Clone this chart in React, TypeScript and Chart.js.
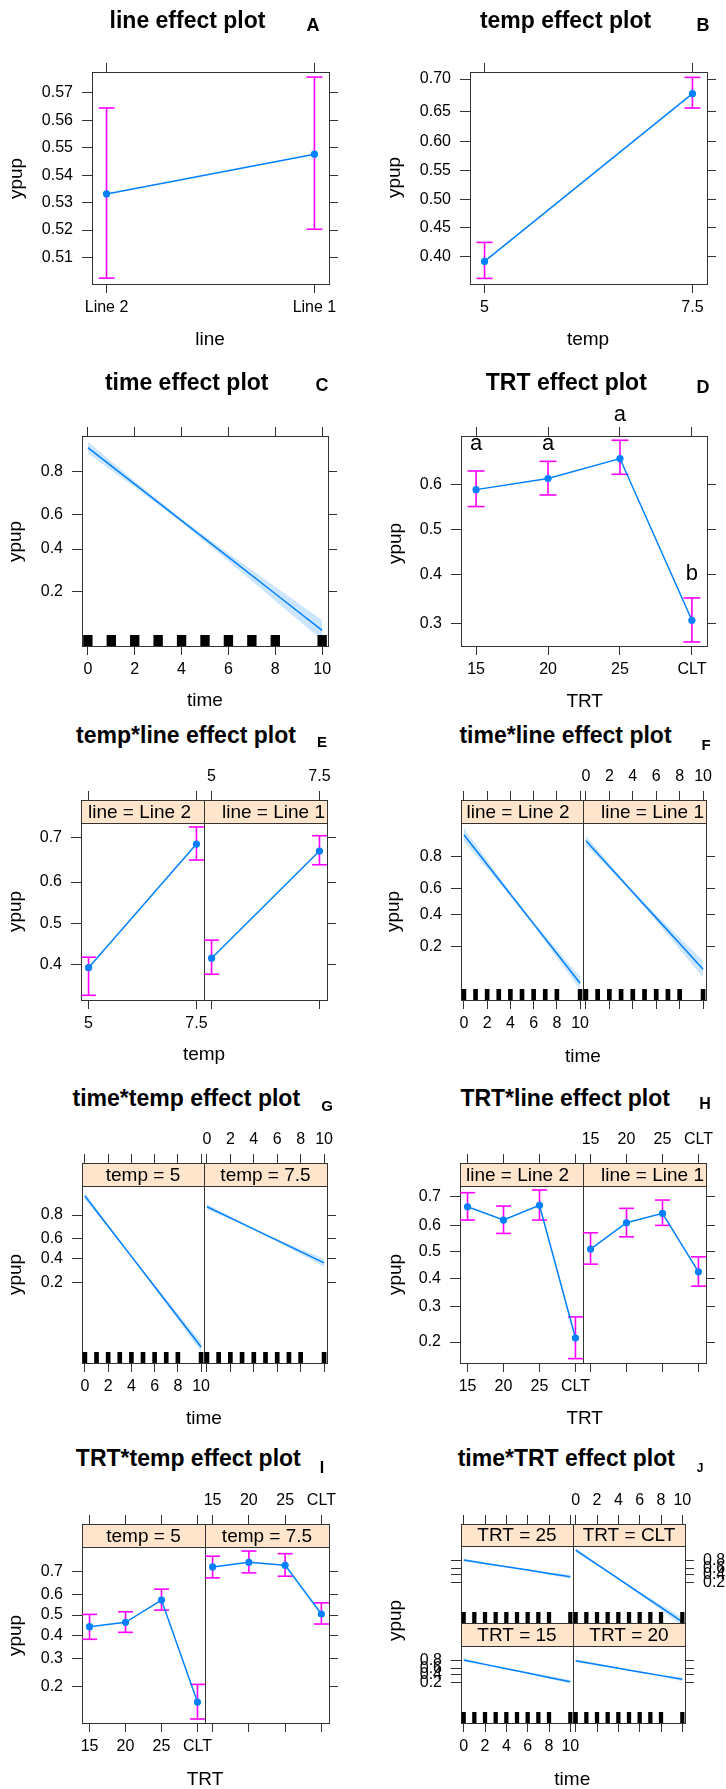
import React, { useEffect, useRef } from "react";
import { Chart, registerables } from "chart.js";

Chart.register(...registerables);

const FONT = "'Liberation Sans', Arial, Helvetica, sans-serif";
const BLUE = "#0080ff";
const MAGENTA = "#ff00ff";
const BAND = "rgba(0,128,255,0.2)";
const STRIP_BG = "#ffe5cc";
const AXIS = "#333333";
const TEXT = "#000000";

const logit = (p: number) => Math.log(p / (1 - p));

// ================= DATA =================
// A: line effect
const lineLevels = ["Line 2", "Line 1"];
const lineFit = [0.5332, 0.5477];
const lineLower = [0.5024, 0.5203];
const lineUpper = [0.5644, 0.5755];

// B: temp effect
const tempValues = [5, 7.5];
const tempLabels = ["5", "7.5"];
const tempFit = [0.3921, 0.6778];
const tempLower = [0.3639, 0.6554];
const tempUpper = [0.4244, 0.7024];

// time grid, rug
const timeGrid = [0, 2, 4, 6, 8, 10];
const timeTicks = [0, 2, 4, 6, 8, 10];
const timeTickLabels = ["0", "2", "4", "6", "8", "10"];
const rugTimes = [0, 1, 2, 3, 4, 5, 6, 7, 8, 10];

// C: time effect
const timeFit = [0.8757, 0.7508, 0.5632, 0.3555, 0.1909, 0.0917];
const timeLower = [0.8602, 0.7375, 0.5528, 0.3345, 0.1673, 0.0742];
const timeUpper = [0.8896, 0.7637, 0.5735, 0.3771, 0.2169, 0.1128];

// D: TRT effect
const trtLevels = ["15", "20", "25", "CLT"];
const trtIndex = [0, 1, 2, 3];
const trtFit = [0.589, 0.6129, 0.6547, 0.3064];
const trtLower = [0.5516, 0.5773, 0.622, 0.2665];
const trtUpper = [0.629, 0.649, 0.691, 0.3507];
const trtSigLetters = ["a", "a", "a", "b"];
const trtSigAt = [0.671, 0.671, 0.727, 0.388];

// E: temp*line
const tempLine2Fit = [0.392, 0.6858];
const tempLine2Lower = [0.3293, 0.6508];
const tempLine2Upper = [0.4168, 0.7208];
const tempLine1Fit = [0.4144, 0.6707];
const tempLine1Lower = [0.3766, 0.6402];
const tempLine1Upper = [0.4581, 0.7032];

// F: time*line
const timeLine2Fit = [0.8864, 0.7579, 0.5565, 0.3349, 0.168, 0.075];
const timeLine2Lower = [0.864, 0.7334, 0.5407, 0.3208, 0.1507, 0.0619];
const timeLine2Upper = [0.9054, 0.7808, 0.5722, 0.3493, 0.1868, 0.0905];
const timeLine1Fit = [0.8664, 0.7463, 0.5718, 0.3771, 0.2155, 0.1109];
const timeLine1Lower = [0.8475, 0.7307, 0.5604, 0.3532, 0.1868, 0.0879];
const timeLine1Upper = [0.8832, 0.7613, 0.5832, 0.4016, 0.2473, 0.1388];

// G: time*temp
const timeTemp5Fit = [0.8977, 0.7171, 0.4226, 0.1747, 0.0576, 0.01736];
const timeTemp5Lower = [0.8843, 0.7027, 0.4124, 0.1641, 0.0507, 0.01417];
const timeTemp5Upper = [0.9095, 0.7311, 0.4329, 0.1857, 0.0654, 0.02125];
const timeTemp75Fit = [0.8494, 0.7806, 0.6915, 0.5856, 0.471, 0.3597];
const timeTemp75Lower = [0.8348, 0.7692, 0.6829, 0.571, 0.445, 0.3226];
const timeTemp75Upper = [0.863, 0.7915, 0.6999, 0.6001, 0.4973, 0.3984];

// H: TRT*line
const trtLine2Fit = [0.6666, 0.6197, 0.6715, 0.2101];
const trtLine2Lower = [0.6197, 0.5703, 0.6197, 0.1622];
const trtLine2Upper = [0.7128, 0.669, 0.7212, 0.2688];
const trtLine1Fit = [0.5104, 0.6099, 0.6436, 0.4236];
const trtLine1Lower = [0.4528, 0.5575, 0.6003, 0.371];
const trtLine1Upper = [0.5727, 0.6611, 0.6891, 0.4808];

// I: TRT*temp
const trtTemp5Fit = [0.4437, 0.4648, 0.572, 0.1559];
const trtTemp5Lower = [0.3846, 0.417, 0.524, 0.1174];
const trtTemp5Upper = [0.5033, 0.516, 0.623, 0.2066];
const trtTemp75Fit = [0.7179, 0.736, 0.7245, 0.5048];
const trtTemp75Lower = [0.673, 0.694, 0.68, 0.4566];
const trtTemp75Upper = [0.758, 0.776, 0.767, 0.559];

// J: time*TRT
const timeTrt25Fit = [0.8184, 0.745, 0.6545, 0.5511, 0.4432, 0.3403];
const timeTrt25Lower = [0.7869, 0.7215, 0.6362, 0.5262, 0.4042, 0.2886];
const timeTrt25Upper = [0.8463, 0.7671, 0.6724, 0.5757, 0.483, 0.396];
const timeTrtCltFit = [0.943, 0.7195, 0.2848, 0.0582, 0.0095, 0.001486];
const timeTrtCltLower = [0.9245, 0.6883, 0.261, 0.0481, 0.00671, 0.000858];
const timeTrtCltUpper = [0.9571, 0.7488, 0.3098, 0.0702, 0.01343, 0.00257];
const timeTrt15Fit = [0.8184, 0.7197, 0.5939, 0.4541, 0.3215, 0.2125];
const timeTrt15Lower = [0.7835, 0.6928, 0.5744, 0.4295, 0.2856, 0.1722];
const timeTrt15Upper = [0.8489, 0.7452, 0.613, 0.479, 0.3596, 0.2592];
const timeTrt20Fit = [0.8047, 0.7177, 0.6106, 0.4915, 0.3736, 0.2689];
const timeTrt20Lower = [0.7714, 0.6928, 0.5915, 0.4665, 0.3369, 0.2244];
const timeTrt20Upper = [0.8343, 0.7413, 0.6295, 0.5165, 0.4117, 0.3187];

// y tick values (probabilities) and limits (logit scale)
const yTicksA = [0.51, 0.52, 0.53, 0.54, 0.55, 0.56, 0.57];
const yTicksB = [0.4, 0.45, 0.5, 0.55, 0.6, 0.65, 0.7];
const yTicksTime = [0.2, 0.4, 0.6, 0.8];
const yTicksD = [0.3, 0.4, 0.5, 0.6];
const yTicksE = [0.4, 0.5, 0.6, 0.7];
const yTicksHI = [0.2, 0.3, 0.4, 0.5, 0.6, 0.7];
const ylimA = [0.001, 0.3118];
const ylimB = [-0.598, 0.8967];
const ylimC = [-2.658, 2.221];
const ylimD = [-1.049, 0.843];
const ylimE = [-0.758, 0.988];
const ylimF = [-3.027, 2.415];
const ylimG = [-4.695, 2.582];
const ylimH = [-1.709, 1.012];
const ylimI = [-2.095, 1.321];
const ylimJ = [-6.67, 3.33];
const xlimCat2 = [-0.07, 1.07];
const xlimTemp = [4.825, 7.675];
const xlimTime = [-0.25, 10.25];
const xlimTrt = [-0.21, 3.21];

// ================= CHART BUILDING =================
type Ax = "n" | "t" | "l";
interface SubSpec {
  box: number[]; // left, top, right, bottom of plot area
  xlim: number[];
  xTicks: number[];
  xLabels: string[];
  ylim: number[];
  yTicks: number[];
  yLabels: string[];
  axes: Ax[]; // bottom, left, top, right
  strip?: string;
  stripDx?: number;
  stripH?: number;
  datasets: any[];
  rug?: number[];
  letters?: string[];
  lettersAt?: number[];
}

const ML = 85, MR = 50, MT = 75, MB = 50;
const RUG_HALF = 0.2;
const RUG_H = 11;

function fitSet(xs: number[], ps: number[], r: number) {
  return {
    data: xs.map((x, i) => ({ x, y: logit(ps[i]) })),
    borderColor: BLUE,
    borderWidth: 1.5,
    pointRadius: r,
    pointBackgroundColor: BLUE,
    pointBorderColor: BLUE,
    pointBorderWidth: 0,
    tension: 0,
    fill: false,
  };
}
function errSet(xs: number[], lo: number[], hi: number[], cap: number) {
  const data: any[] = [];
  xs.forEach((x, i) => {
    data.push({ x, y: logit(lo[i]) }, { x, y: logit(hi[i]) }, { x, y: null });
  });
  return {
    data,
    borderColor: MAGENTA,
    borderWidth: 1.6,
    pointStyle: "line",
    pointRadius: cap,
    pointBorderColor: MAGENTA,
    pointBorderWidth: 1.6,
    spanGaps: false,
    fill: false,
    tension: 0,
  };
}
function bandSets(xs: number[], lo: number[], hi: number[]) {
  return [
    {
      data: xs.map((x, i) => ({ x, y: logit(hi[i]) })),
      borderColor: "rgba(0,0,0,0)",
      borderWidth: 0,
      pointRadius: 0,
      fill: "+1",
      backgroundColor: BAND,
      tension: 0,
    },
    {
      data: xs.map((x, i) => ({ x, y: logit(lo[i]) })),
      borderColor: "rgba(0,0,0,0)",
      borderWidth: 0,
      pointRadius: 0,
      fill: false,
      tension: 0,
    },
  ];
}
const catSets = (xs: number[], f: number[], lo: number[], hi: number[], cap: number) => [
  fitSet(xs, f, 3.6),
  errSet(xs, lo, hi, cap),
];
const timeSets = (f: number[], lo: number[], hi: number[]) => [
  fitSet(timeGrid, f, 0),
  ...bandSets(timeGrid, lo, hi),
];

function axis(
  which: "x" | "y",
  pos: string,
  lim: number[],
  tickVals: number[],
  labels: string[],
  mode: Ax,
  tl: number,
  pad: number,
  size: number
) {
  const horiz = pos === "top" || pos === "bottom";
  return {
    type: "linear",
    axis: which,
    position: pos,
    min: lim[0],
    max: lim[1],
    afterBuildTicks: (s: any) => {
      s.ticks = tickVals.map((v) => ({ value: v }));
    },
    afterFit: (s: any) => {
      if (horiz) s.height = size;
      else s.width = size;
      s.paddingLeft = 0;
      s.paddingRight = 0;
      s.paddingTop = 0;
      s.paddingBottom = 0;
    },
    ticks: {
      display: mode === "l",
      autoSkip: false,
      minRotation: 0,
      maxRotation: 0,
      padding: pad,
      color: TEXT,
      font: { family: FONT, size: 16 },
      callback: (_v: any, i: number) => labels[i],
    },
    grid: {
      display: true,
      drawOnChartArea: false,
      drawTicks: mode !== "n",
      tickLength: tl,
      color: AXIS,
      lineWidth: 1,
    },
    border: { display: true, color: AXIS, width: 1 },
  };
}

function stripPlugin(text: string, h: number, dx: number) {
  return {
    id: "strip",
    afterDraw(chart: any) {
      const { ctx, chartArea: a } = chart;
      const x0 = Math.round(a.left) + 0.5;
      const x1 = Math.round(a.right) + 0.5;
      const y1 = Math.round(a.top) + 0.5;
      const y0 = y1 - h;
      ctx.save();
      ctx.fillStyle = STRIP_BG;
      ctx.fillRect(x0, y0, x1 - x0, h);
      ctx.strokeStyle = AXIS;
      ctx.lineWidth = 1;
      ctx.strokeRect(x0, y0, x1 - x0, h);
      ctx.fillStyle = TEXT;
      ctx.font = `19px ${FONT}`;
      ctx.textAlign = "center";
      ctx.textBaseline = "alphabetic";
      ctx.fillText(text, (a.left + a.right) / 2 + dx, a.top - 5);
      ctx.restore();
    },
  };
}
function rugPlugin(times: number[]) {
  return {
    id: "rug",
    afterDatasetsDraw(chart: any) {
      const { ctx, chartArea: a, scales } = chart;
      const xs = scales.x;
      ctx.save();
      ctx.fillStyle = "#000";
      for (const t of times) {
        const x0 = xs.getPixelForValue(t - RUG_HALF);
        const x1 = xs.getPixelForValue(t + RUG_HALF);
        ctx.fillRect(x0, a.bottom - RUG_H, x1 - x0, RUG_H);
      }
      ctx.restore();
    },
  };
}
function sigPlugin(letters: string[], at: number[]) {
  return {
    id: "sig",
    afterDatasetsDraw(chart: any) {
      const { ctx, scales } = chart;
      ctx.save();
      ctx.fillStyle = TEXT;
      ctx.font = `22px ${FONT}`;
      ctx.textAlign = "center";
      ctx.textBaseline = "alphabetic";
      letters.forEach((s, i) => {
        ctx.fillText(s, scales.x.getPixelForValue(i), scales.y.getPixelForValue(logit(at[i])));
      });
      ctx.restore();
    },
  };
}

function buildConfig(s: SubSpec) {
  const stripH = s.strip ? s.stripH ?? 23 : 0;
  const [bAx, lAx, tAx, rAx] = s.axes;
  const ytv = s.yTicks.map(logit);
  const plugins: any[] = [];
  if (s.strip) plugins.push(stripPlugin(s.strip, stripH, s.stripDx || 0));
  if (s.rug) plugins.push(rugPlugin(s.rug));
  if (s.letters && s.lettersAt) plugins.push(sigPlugin(s.letters, s.lettersAt));
  return {
    type: "line",
    data: { datasets: s.datasets },
    options: {
      responsive: false,
      maintainAspectRatio: false,
      animation: false,
      devicePixelRatio: 1,
      events: [],
      layout: { padding: 0, autoPadding: false },
      plugins: {
        legend: { display: false },
        tooltip: { enabled: false },
        title: { display: false },
      },
      scales: {
        x: axis("x", "bottom", s.xlim, s.xTicks, s.xLabels, bAx, 9, 5, MB),
        xTop: axis("x", "top", s.xlim, s.xTicks, s.xLabels, tAx, 9 + stripH, 5, MT),
        y: axis("y", "left", s.ylim, ytv, s.yLabels, lAx, 10, 9, ML),
        yRight: axis("y", "right", s.ylim, ytv, s.yLabels, rAx, 9, 9, MR),
      },
    },
    plugins,
  };
}

const fmt = (d: number) => (v: number) => v.toFixed(d);

const SUBPLOTS: SubSpec[] = [
  // A
  {
    box: [92, 72, 329, 284], xlim: xlimCat2, xTicks: [0, 1], xLabels: lineLevels,
    ylim: ylimA, yTicks: yTicksA, yLabels: yTicksA.map(fmt(2)), axes: ["l", "l", "t", "t"],
    datasets: catSets([0, 1], lineFit, lineLower, lineUpper, 8),
  },
  // B
  {
    box: [470, 72, 707, 284], xlim: xlimTemp, xTicks: tempValues, xLabels: tempLabels,
    ylim: ylimB, yTicks: yTicksB, yLabels: yTicksB.map(fmt(2)), axes: ["l", "l", "t", "t"],
    datasets: catSets(tempValues, tempFit, tempLower, tempUpper, 8),
  },
  // C
  {
    box: [82, 436, 328, 646], xlim: xlimTime, xTicks: timeTicks, xLabels: timeTickLabels,
    ylim: ylimC, yTicks: yTicksTime, yLabels: yTicksTime.map(fmt(1)), axes: ["l", "l", "t", "t"],
    datasets: timeSets(timeFit, timeLower, timeUpper), rug: rugTimes,
  },
  // D
  {
    box: [461, 436, 707, 646], xlim: xlimTrt, xTicks: trtIndex, xLabels: trtLevels,
    ylim: ylimD, yTicks: yTicksD, yLabels: yTicksD.map(fmt(1)), axes: ["l", "l", "t", "t"],
    datasets: catSets(trtIndex, trtFit, trtLower, trtUpper, 8.5),
    letters: trtSigLetters, lettersAt: trtSigAt,
  },
  // E left / right
  {
    box: [81, 823, 204, 1000], xlim: xlimTemp, xTicks: tempValues, xLabels: tempLabels,
    ylim: ylimE, yTicks: yTicksE, yLabels: yTicksE.map(fmt(1)), axes: ["l", "l", "t", "n"],
    strip: "line = Line 2", stripDx: -3,
    datasets: catSets(tempValues, tempLine2Fit, tempLine2Lower, tempLine2Upper, 7.5),
  },
  {
    box: [204, 823, 327, 1000], xlim: xlimTemp, xTicks: tempValues, xLabels: tempLabels,
    ylim: ylimE, yTicks: yTicksE, yLabels: yTicksE.map(fmt(1)), axes: ["t", "n", "l", "t"],
    strip: "line = Line 1", stripDx: 8,
    datasets: catSets(tempValues, tempLine1Fit, tempLine1Lower, tempLine1Upper, 7.5),
  },
  // F
  {
    box: [461, 823, 583, 1000], xlim: xlimTime, xTicks: timeTicks, xLabels: timeTickLabels,
    ylim: ylimF, yTicks: yTicksTime, yLabels: yTicksTime.map(fmt(1)), axes: ["l", "l", "t", "n"],
    strip: "line = Line 2", stripDx: -4,
    datasets: timeSets(timeLine2Fit, timeLine2Lower, timeLine2Upper), rug: rugTimes,
  },
  {
    box: [583, 823, 706, 1000], xlim: xlimTime, xTicks: timeTicks, xLabels: timeTickLabels,
    ylim: ylimF, yTicks: yTicksTime, yLabels: yTicksTime.map(fmt(1)), axes: ["t", "n", "l", "t"],
    strip: "line = Line 1", stripDx: 8,
    datasets: timeSets(timeLine1Fit, timeLine1Lower, timeLine1Upper), rug: rugTimes,
  },
  // G
  {
    box: [82, 1186, 204, 1363], xlim: xlimTime, xTicks: timeTicks, xLabels: timeTickLabels,
    ylim: ylimG, yTicks: yTicksTime, yLabels: yTicksTime.map(fmt(1)), axes: ["l", "l", "t", "n"],
    strip: "temp = 5",
    datasets: timeSets(timeTemp5Fit, timeTemp5Lower, timeTemp5Upper), rug: rugTimes,
  },
  {
    box: [204, 1186, 327, 1363], xlim: xlimTime, xTicks: timeTicks, xLabels: timeTickLabels,
    ylim: ylimG, yTicks: yTicksTime, yLabels: yTicksTime.map(fmt(1)), axes: ["t", "n", "l", "t"],
    strip: "temp = 7.5",
    datasets: timeSets(timeTemp75Fit, timeTemp75Lower, timeTemp75Upper), rug: rugTimes,
  },
  // H
  {
    box: [460, 1186, 583, 1363], xlim: xlimTrt, xTicks: trtIndex, xLabels: trtLevels,
    ylim: ylimH, yTicks: yTicksHI, yLabels: yTicksHI.map(fmt(1)), axes: ["l", "l", "t", "n"],
    strip: "line = Line 2", stripDx: -4,
    datasets: catSets(trtIndex, trtLine2Fit, trtLine2Lower, trtLine2Upper, 7.5),
  },
  {
    box: [583, 1186, 706, 1363], xlim: xlimTrt, xTicks: trtIndex, xLabels: trtLevels,
    ylim: ylimH, yTicks: yTicksHI, yLabels: yTicksHI.map(fmt(1)), axes: ["t", "n", "l", "t"],
    strip: "line = Line 1", stripDx: 8,
    datasets: catSets(trtIndex, trtLine1Fit, trtLine1Lower, trtLine1Upper, 7.5),
  },
  // I
  {
    box: [82, 1547, 205, 1723], xlim: xlimTrt, xTicks: trtIndex, xLabels: trtLevels,
    ylim: ylimI, yTicks: yTicksHI, yLabels: yTicksHI.map(fmt(1)), axes: ["l", "l", "t", "n"],
    strip: "temp = 5",
    datasets: catSets(trtIndex, trtTemp5Fit, trtTemp5Lower, trtTemp5Upper, 7.5),
  },
  {
    box: [205, 1547, 329, 1723], xlim: xlimTrt, xTicks: trtIndex, xLabels: trtLevels,
    ylim: ylimI, yTicks: yTicksHI, yLabels: yTicksHI.map(fmt(1)), axes: ["t", "n", "l", "t"],
    strip: "temp = 7.5",
    datasets: catSets(trtIndex, trtTemp75Fit, trtTemp75Lower, trtTemp75Upper, 7.5),
  },
  // J top row
  {
    box: [461, 1546, 573, 1623], xlim: xlimTime, xTicks: timeTicks, xLabels: timeTickLabels,
    ylim: ylimJ, yTicks: yTicksTime, yLabels: yTicksTime.map(fmt(1)), axes: ["n", "t", "t", "n"],
    strip: "TRT = 25", stripH: 22,
    datasets: timeSets(timeTrt25Fit, timeTrt25Lower, timeTrt25Upper), rug: rugTimes,
  },
  {
    box: [573, 1546, 685, 1623], xlim: xlimTime, xTicks: timeTicks, xLabels: timeTickLabels,
    ylim: ylimJ, yTicks: yTicksTime, yLabels: yTicksTime.map(fmt(1)), axes: ["n", "n", "l", "l"],
    strip: "TRT = CLT", stripH: 22,
    datasets: timeSets(timeTrtCltFit, timeTrtCltLower, timeTrtCltUpper), rug: rugTimes,
  },
  // J bottom row
  {
    box: [461, 1646, 573, 1723], xlim: xlimTime, xTicks: timeTicks, xLabels: timeTickLabels,
    ylim: ylimJ, yTicks: yTicksTime, yLabels: yTicksTime.map(fmt(1)), axes: ["l", "l", "n", "n"],
    strip: "TRT = 15",
    datasets: timeSets(timeTrt15Fit, timeTrt15Lower, timeTrt15Upper), rug: rugTimes,
  },
  {
    box: [573, 1646, 685, 1723], xlim: xlimTime, xTicks: timeTicks, xLabels: timeTickLabels,
    ylim: ylimJ, yTicks: yTicksTime, yLabels: yTicksTime.map(fmt(1)), axes: ["t", "n", "n", "t"],
    strip: "TRT = 20",
    datasets: timeSets(timeTrt20Fit, timeTrt20Lower, timeTrt20Upper), rug: rugTimes,
  },
];

// text: [text, centerX, baseline]
const TITLES: [string, number, number][] = [
  ["line effect plot", 187.5, 28.3],
  ["temp effect plot", 565.5, 28.3],
  ["time effect plot", 186.7, 390],
  ["TRT effect plot", 566.3, 390.7],
  ["temp*line effect plot", 186, 743.3],
  ["time*line effect plot", 565.5, 743.3],
  ["time*temp effect plot", 186.3, 1106],
  ["TRT*line effect plot", 565.2, 1106],
  ["TRT*temp effect plot", 188.3, 1466],
  ["time*TRT effect plot", 566.3, 1466],
];
const PANEL_LETTERS: [string, number, number, number][] = [
  ["A", 313, 31.7, 18],
  ["B", 703, 31.7, 18],
  ["C", 322, 391.7, 18],
  ["D", 703, 393.3, 18],
  ["E", 322, 746.7, 15],
  ["F", 706, 749.3, 15],
  ["G", 327, 1110.7, 15],
  ["H", 705, 1110, 16],
  ["I", 322, 1473.3, 16],
  ["J", 700, 1471.7, 12],
];
const X_TITLES: [string, number, number][] = [
  ["line", 210, 345],
  ["temp", 588, 345],
  ["time", 205, 706],
  ["TRT", 584.7, 706.7],
  ["temp", 204, 1060],
  ["time", 583, 1061.7],
  ["time", 204, 1424],
  ["TRT", 584.7, 1424],
  ["TRT", 205, 1785],
  ["time", 572.3, 1785],
];
const Y_TITLES: [number, number][] = [
  [18.3, 178.3],
  [397, 177.5],
  [17.5, 541.7],
  [397.7, 543.3],
  [17.5, 911.7],
  [396, 911.7],
  [17.5, 1274],
  [397.7, 1274],
  [17.5, 1635],
  [397.7, 1620],
];

function EffectChart({ spec }: { spec: SubSpec }) {
  const ref = useRef<HTMLCanvasElement | null>(null);
  const [l, t, r, b] = spec.box;
  const w = r - l + ML + MR;
  const h = b - t + MT + MB;
  useEffect(() => {
    const chart = new Chart(ref.current as HTMLCanvasElement, buildConfig(spec) as any);
    return () => chart.destroy();
  }, [spec]);
  return (
    <canvas
      ref={ref}
      width={w}
      height={h}
      style={{ position: "absolute", left: l - ML, top: t - MT, width: w, height: h }}
    />
  );
}

function TextAt({ text, x, y, size, bold }: { text: string; x: number; y: number; size: number; bold?: boolean }) {
  return (
    <div
      style={{
        position: "absolute",
        left: x - 200,
        top: y - 0.8465 * size,
        width: 400,
        textAlign: "center",
        fontSize: size,
        lineHeight: `${size}px`,
        fontWeight: bold ? "bold" : "normal",
        whiteSpace: "nowrap",
        color: TEXT,
        fontFamily: FONT,
      }}
    >
      {text}
    </div>
  );
}

function YTitle({ x, y }: { x: number; y: number }) {
  const size = 19;
  const cx = x - 0.19 * size;
  return (
    <div
      style={{
        position: "absolute",
        left: cx - 50,
        top: y - size / 2,
        width: 100,
        height: size,
        lineHeight: `${size}px`,
        fontSize: size,
        textAlign: "center",
        transform: "rotate(-90deg)",
        whiteSpace: "nowrap",
        color: TEXT,
        fontFamily: FONT,
      }}
    >
      ypup
    </div>
  );
}

export default function App() {
  return (
    <div
      style={{
        position: "absolute",
        left: 0,
        top: 0,
        width: 726,
        height: 1789,
        background: "#ffffff",
        overflow: "hidden",
        fontFamily: FONT,
      }}
    >
      {SUBPLOTS.map((s, i) => (
        <EffectChart key={i} spec={s} />
      ))}
      {TITLES.map(([t, x, y], i) => (
        <TextAt key={"t" + i} text={t} x={x} y={y} size={23} bold />
      ))}
      {PANEL_LETTERS.map(([t, x, y, s], i) => (
        <TextAt key={"p" + i} text={t} x={x} y={y} size={s} bold />
      ))}
      {X_TITLES.map(([t, x, y], i) => (
        <TextAt key={"x" + i} text={t} x={x} y={y} size={19} />
      ))}
      {Y_TITLES.map(([x, y], i) => (
        <YTitle key={"y" + i} x={x} y={y} />
      ))}
    </div>
  );
}
